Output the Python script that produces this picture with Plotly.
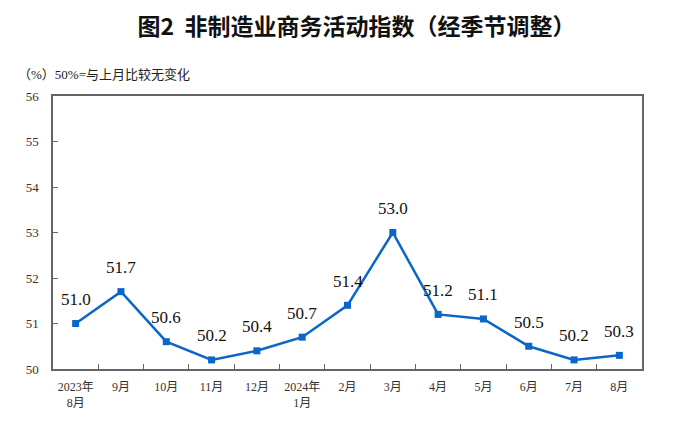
import plotly.graph_objects as go

categories = ["2023年<br>8月", "9月", "10月", "11月", "12月", "2024年<br>1月", "2月",
              "3月", "4月", "5月", "6月", "7月", "8月"]
values = [51.0, 51.7, 50.6, 50.2, 50.4, 50.7, 51.4, 53.0, 51.2, 51.1, 50.5, 50.2, 50.3]
y_ticks = [50, 51, 52, 53, 54, 55, 56]

serif = "Liberation Serif, Noto Sans CJK SC, serif"
color = "#0a66c8"

fig = go.Figure()
fig.add_trace(go.Scatter(
    x=categories, y=values, mode="lines+markers",
    line=dict(color=color, width=2.5),
    marker=dict(symbol="square", size=7, color=color),
    hoverinfo="skip", showlegend=False,
))
for c, v in zip(categories, values):
    fig.add_annotation(x=c, y=v, text=f"{v:.1f}", showarrow=False, yshift=24,
                       font=dict(family=serif, size=17, color="#111"))

fig.update_layout(
    width=697, height=436,
    margin=dict(l=45, r=63, t=88, b=75),
    paper_bgcolor="white", plot_bgcolor="white",
    title=dict(text="<b>图2  非制造业商务活动指数（经季节调整）</b>", x=0.5, xanchor="center",
               y=1 - 19 / 436, yanchor="middle",
               font=dict(family="Noto Sans CJK SC", size=23, color="#111")),
    xaxis=dict(
        type="category", range=[-0.5, len(categories) - 0.5],
        showgrid=False, zeroline=False,
        showline=True, linecolor="#666", linewidth=1.5, mirror=True,
        ticks="inside", tickson="boundaries", ticklen=5, tickcolor="#666",
        tickangle=0, ticklabelstandoff=6,
        tickfont=dict(family=serif, size=12, color="#333"),
    ),
    yaxis=dict(
        range=[50, 56], tickvals=y_ticks, showgrid=False, zeroline=False,
        showline=True, linecolor="#666", linewidth=1.5, mirror=True,
        ticks="inside", ticklen=5, tickcolor="#666", ticklabelstandoff=10,
        tickfont=dict(family=serif, size=13, color="#333"),
    ),
)
fig.add_annotation(text="（%）50%=与上月比较无变化", xref="paper", yref="paper",
                   x=-0.062, y=1.08, xanchor="left", yanchor="middle", showarrow=False,
                   font=dict(family=serif, size=13, color="#222"))

fig.write_html("out.html")
